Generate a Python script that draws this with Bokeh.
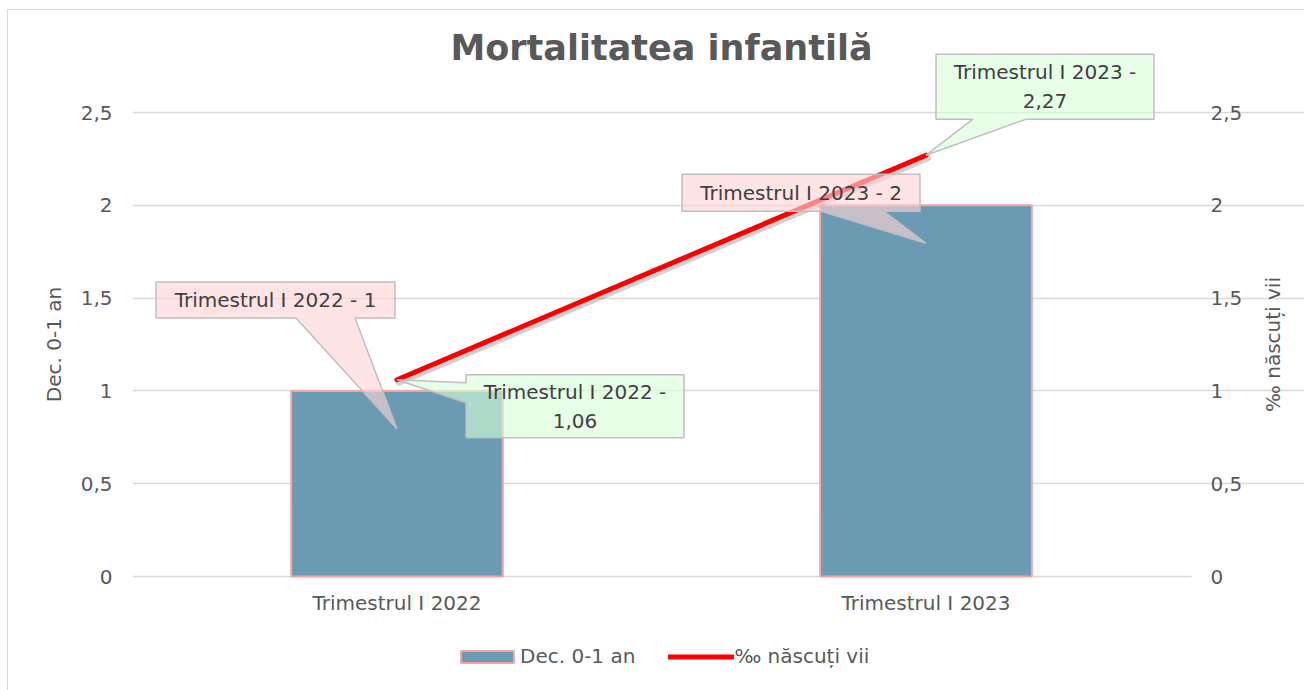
import math
from bokeh.plotting import figure
from bokeh.models import Range1d, LinearAxis, FixedTicker, Legend, LegendItem, Label
from bokeh.embed import file_html
from bokeh.resources import INLINE
from bokeh.core.properties import value

# ---------------- data ----------------
title_text = "Mortalitatea infantilă"
categories = ["Trimestrul I 2022", "Trimestrul I 2023"]
deaths = [1, 2]            # Dec. 0-1 an (left axis, bars)
rate = [1.06, 2.27]        # ‰ născuți vii (right axis, line)
y_ticks = [0, 0.5, 1, 1.5, 2, 2.5]
y_tick_labels = ["0", "0,5", "1", "1,5", "2", "2,5"]
left_title = "Dec. 0-1 an"
right_title = "‰ născuți vii"

# ---------------- style / layout ----------------
FONT = "DejaVu Sans"
TXT = "#595959"
GRID = "#D9D9D9"
BAR_FILL = "#6A9BB3"
BAR_LINE = "#F4A2A6"
RED = "#FF0000"
PLOT_W, PLOT_H = 1058, 464        # pixel size of the value area
EXT = 100                          # extra frame room above/below (callouts, legend)
TOTAL_W, TOTAL_H = 1304, 690
ML, MT = 132, 12
EXTR = TOTAL_W - ML - PLOT_W       # frame room right of the value area (right axis)
YMAX = 2.5
XMAX = len(categories)
SX = XMAX / PLOT_W   # data units per pixel (x)
SY = YMAX / PLOT_H   # data units per pixel (y)
FH = PLOT_H + 2 * EXT
FW = PLOT_W + EXTR


def fmt(v):
    return f"{v:g}".replace(".", ",")


xc = [i + 0.5 for i in range(len(categories))]

p = figure(x_range=Range1d(0, XMAX + EXTR * SX),
           y_range=Range1d(-EXT * SY, YMAX + EXT * SY),
           frame_width=FW, frame_height=FH,
           min_border_left=ML, min_border_right=0,
           min_border_top=MT, min_border_bottom=TOTAL_H - MT - FH,
           output_backend="svg", toolbar_location=None,
           background_fill_color="white", border_fill_color=None)
p.outline_line_color = None
p.styles = {"box-shadow": "inset 7px 9px 0 0 #FFFFFF, inset 8px 10px 0 0 #D9D9D9"}

p.extra_y_ranges = {"right": Range1d(-EXT * SY, YMAX + EXT * SY)}

# axes
p.xaxis.ticker = FixedTicker(ticks=xc)
p.xaxis.major_label_overrides = {x: c for x, c in zip(xc, categories)}
p.xaxis.fixed_location = 0
p.xaxis.bounds = (0, XMAX)
p.yaxis.ticker = FixedTicker(ticks=y_ticks)
p.yaxis.major_label_overrides = {t: l for t, l in zip(y_ticks, y_tick_labels)}
p.yaxis.axis_label = left_title

raxis = LinearAxis(y_range_name="right", ticker=FixedTicker(ticks=y_ticks),
                   fixed_location=XMAX)
raxis.major_label_overrides = {t: l for t, l in zip(y_ticks, y_tick_labels)}
p.add_layout(raxis, "right")

for ax in [p.xaxis[0], p.yaxis[0], raxis]:
    ax.axis_line_color = None
    ax.axis_line_alpha = 0
    ax.major_tick_line_color = None
    ax.minor_tick_line_color = None
    ax.major_label_text_font = FONT
    ax.major_label_text_font_size = "20px"
    ax.major_label_text_color = TXT
    ax.axis_label_text_font = FONT
    ax.axis_label_text_font_size = "20px"
    ax.axis_label_text_font_style = "normal"
    ax.axis_label_text_color = TXT
p.xaxis.major_label_standoff = 8
p.yaxis.major_label_standoff = 14
raxis.major_label_standoff = 14
p.yaxis.axis_label_standoff = 12

p.xgrid.grid_line_color = None
p.ygrid.ticker = FixedTicker(ticks=y_ticks)
p.ygrid.bounds = (0, XMAX)
p.ygrid.grid_line_color = GRID
p.ygrid.grid_line_width = 1.5

# white mask over the grid's overshoot right of the value area (axis labels stay on top)
p.quad(left=[XMAX + 1 * SX], right=[XMAX + EXTR * SX], bottom=[-4 * SY], top=[4 * SY],
       fill_color="white", line_color=None)

# right axis title (reads bottom to top, like the left one)
p.text(x=[XMAX + 82 * SX], y=[YMAX / 2], text=[right_title], angle=math.pi / 2,
       text_font=value(FONT), text_font_size="20px", text_color=TXT,
       text_align="center", text_baseline="middle")

# title
p.add_layout(Label(x=XMAX / 2, y=YMAX, y_offset=65, text=title_text,
                   text_font=FONT, text_font_size="35px", text_font_style="bold",
                   text_color=TXT, text_align="center", text_baseline="alphabetic"))

# bars
bars = p.vbar(x=xc, top=deaths, width=0.4, fill_color=BAR_FILL,
              line_color=BAR_LINE, line_width=2)

# line with soft shadow
p.line(x=[x + 2 * SX for x in xc], y=[r - 3 * SY for r in rate], y_range_name="right",
       line_color="#000000", line_alpha=0.18, line_width=6, line_cap="round")
line = p.line(x=xc, y=rate, y_range_name="right", line_color=RED, line_width=5,
              line_cap="round")

# ---------------- callouts (pixel offsets relative to the anchor) ----------------
pink_geom = [
    dict(box=(-241, -2, 109, 73), base=(-101, -42), tip=(0, -38)),
    dict(box=(-244, -6, 31, -6), base=(-105, -42), tip=(0, -38)),
]
green_geom = [
    dict(box=(69, 287, 5, -58), side="left", base=(-3, -23), tip=(0, 0)),
    dict(box=(10, 228, 101, 36), side="bottom", base=(47, 100), tip=(0, 0)),
]


def to_data(ax, ay, pts):
    return [ax + dx * SX for dx, dy in pts], [ay + dy * SY for dx, dy in pts]


def callout_poly(g):
    l, r, t, b = g["box"]
    tip = g["tip"]
    if g.get("side", "bottom") == "bottom":
        b1, b2 = g["base"]
        return [(l, t), (r, t), (r, b), (b2, b), tip, (b1, b), (l, b)]
    u, d = g["base"]
    return [(l, t), (r, t), (r, b), (l, b), (l, d), tip, (l, u)]


pxs, pys, ptx, pty, ptxt = [], [], [], [], []
for i, g in enumerate(pink_geom):
    ax, ay = xc[i], deaths[i]
    xs, ys = to_data(ax, ay, callout_poly(g))
    pxs.append(xs); pys.append(ys)
    l, r, t, b = g["box"]
    ptx.append(ax + (l + r) / 2 * SX); pty.append(ay + (t + b) / 2 * SY)
    ptxt.append(f"{categories[i]} - {fmt(deaths[i])}")

gxs, gys, gtx, gty, gtxt = [], [], [], [], []
for i, g in enumerate(green_geom):
    ax, ay = xc[i], rate[i]
    xs, ys = to_data(ax, ay, callout_poly(g))
    gxs.append(xs); gys.append(ys)
    l, r, t, b = g["box"]
    gtx.append(ax + (l + r) / 2 * SX); gty.append(ay + (t + b) / 2 * SY)
    gtxt.append(f"{categories[i]} -\n{fmt(rate[i])}")

p.patches(pxs, pys, fill_color="#FFD3D6", fill_alpha=0.62,
          line_color="#BFBFBF", line_width=1.5)
p.patches(gxs, gys, fill_color="#D6FFD6", fill_alpha=0.62,
          line_color="#BFBFBF", line_width=1.5)
p.text(ptx, pty, text=ptxt, text_font=value(FONT), text_font_size="20px",
       text_color="#404040", text_align="center", text_baseline="middle")
p.text(gtx, gty, text=gtxt, text_font=value(FONT), text_font_size="20px",
       text_color="#404040", text_align="center", text_baseline="middle",
       text_line_height=1.2)

# ---------------- legend ----------------
legend = Legend(items=[LegendItem(label=left_title, renderers=[bars]),
                       LegendItem(label=right_title, renderers=[line])],
                orientation="horizontal", location=(322, 8),
                padding=0, margin=0, spacing=33, label_standoff=0,
                glyph_width=66, glyph_height=15,
                label_text_font=FONT, label_text_font_size="20px",
                label_text_color=TXT,
                background_fill_alpha=0, border_line_color=None)
p.add_layout(legend)

open("out.html", "w").write(file_html(p, INLINE))
